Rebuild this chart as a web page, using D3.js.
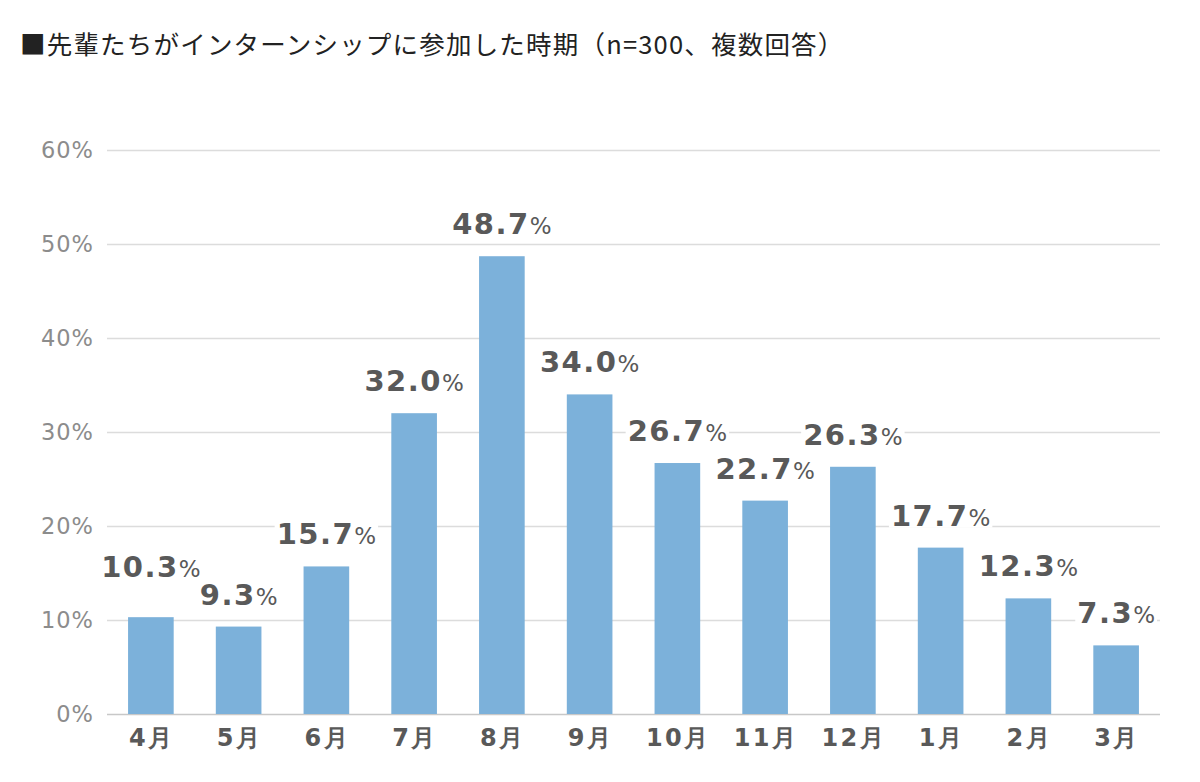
<!DOCTYPE html>
<html>
<head>
<meta charset="utf-8">
<script src="https://cdn.jsdelivr.net/npm/d3@7"></script>
<style>
  body { margin: 0; background: #fff; }
  svg { display: block; }
  .num { font-family: "DejaVu Sans", Verdana, sans-serif; }
</style>
</head>
<body>
<svg id="chart" width="1200" height="782"></svg>
<script>
var title = "■先輩たちがインターンシップに参加した時期（n=300、複数回答）";
var months = ["4月", "5月", "6月", "7月", "8月", "9月", "10月", "11月", "12月", "1月", "2月", "3月"];
var rates = [10.3, 9.3, 15.7, 32.0, 48.7, 34.0, 26.7, 22.7, 26.3, 17.7, 12.3, 7.3];
var yTicks = [0, 10, 20, 30, 40, 50, 60];

var svg = d3.select("#chart"),
    margin = {top: 150, right: 40, bottom: 68, left: 107},
    width = +svg.attr("width") - margin.left - margin.right,
    height = +svg.attr("height") - margin.top - margin.bottom;

var g = svg.append("g")
    .attr("transform", "translate(" + margin.left + "," + margin.top + ")");

var x = d3.scaleBand()
    .domain(months)
    .range([0, width])
    .paddingInner(0.48)
    .paddingOuter(0.24);

var y = d3.scaleLinear()
    .domain([0, 60])
    .range([height, 0]);

// title
svg.append("text")
    .attr("x", 20)
    .attr("y", 54)
    .attr("font-family", "Noto Sans CJK JP, sans-serif")
    .attr("font-size", 25.5)
    .style("letter-spacing", "1.2px")
    .attr("fill", "#222")
    .text(title);

// gridlines + y labels
var yAxis = g.append("g")
    .call(d3.axisLeft(y).tickValues(yTicks).tickSize(-width).tickFormat(d => d + "%"));
yAxis.select(".domain").remove();
yAxis.selectAll(".tick line")
    .attr("stroke", d => d === 0 ? "#c8c8c8" : "#dcdcdc")
    .attr("stroke-width", 1.5);
yAxis.selectAll(".tick text")
    .attr("class", "num")
    .attr("x", -13)
    .attr("font-family", null)
    .attr("font-size", 22.5)
    .style("letter-spacing", "1px")
    .attr("fill", "#8c8c8c");

// x labels
var xAxis = g.append("g")
    .attr("transform", "translate(0," + height + ")")
    .call(d3.axisBottom(x).tickSize(0));
xAxis.select(".domain").remove();
xAxis.selectAll(".tick text")
    .attr("class", "num")
    .attr("x", 1)
    .attr("y", 15)
    .attr("dy", "0.71em")
    .attr("font-family", null)
    .attr("font-weight", "bold")
    .attr("font-size", 24)
    .style("letter-spacing", "2.5px")
    .attr("fill", "#595959");

// bars
g.append("g")
    .selectAll(".bar")
    .data(rates)
    .join("rect")
    .attr("class", "bar")
    .attr("x", (d, i) => x(months[i]))
    .attr("y", d => y(d))
    .attr("width", x.bandwidth())
    .attr("height", d => height - y(d))
    .attr("fill", "#7cb1da");

// value labels
var labels = g.append("g")
    .selectAll(".label")
    .data(rates)
    .join("g")
    .attr("class", "label");

labels.append("rect").attr("fill", "#fff");

var lt = labels.append("text")
    .attr("class", "num")
    .attr("x", (d, i) => x(months[i]) + x.bandwidth() / 2)
    .attr("y", d => y(d) - 22)
    .attr("text-anchor", "middle")
    .attr("fill", "#595959");
lt.append("tspan")
    .attr("font-weight", "bold")
    .attr("font-size", 29)
    .style("letter-spacing", "1.5px")
    .text(d => d.toFixed(1));
lt.append("tspan")
    .attr("font-size", 23)
    .text("%");

// push a label up when it runs into its neighbour
var nodes = lt.nodes();
for (var i = 0; i < nodes.length - 1; i++) {
    var a = nodes[i].getBBox(), b = nodes[i + 1].getBBox();
    var hit = a.x + a.width > b.x && a.y + a.height - 6 > b.y && b.y + b.height - 6 > a.y;
    if (hit) {
        var up = rates[i] >= rates[i + 1] ? nodes[i] : nodes[i + 1];
        var low = up === nodes[i] ? b : a;
        var cur = up.getBBox();
        var shift = (cur.y + cur.height) - low.y - 6;
        d3.select(up).attr("y", +d3.select(up).attr("y") - shift);
    }
}

labels.each(function () {
    var b = d3.select(this).select("text").node().getBBox();
    d3.select(this).select("rect")
        .attr("x", b.x - 2).attr("y", b.y + 5)
        .attr("width", b.width + 4).attr("height", b.height - 10);
});
</script>
</body>
</html>
